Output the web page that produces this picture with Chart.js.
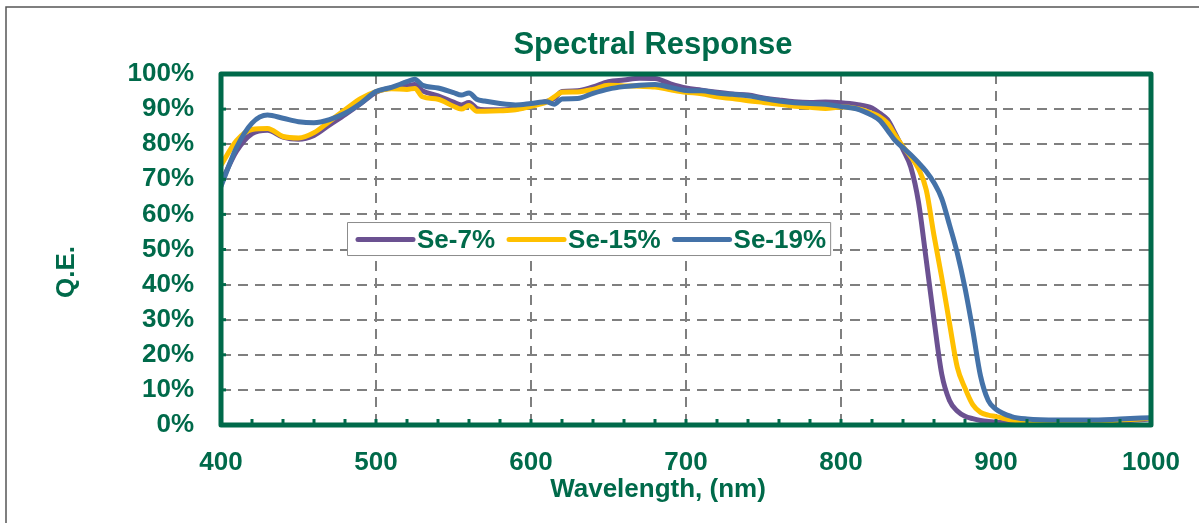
<!DOCTYPE html>
<html>
<head>
<meta charset="utf-8">
<script src="https://cdn.jsdelivr.net/npm/chart.js@4"></script>
<style>
  body { margin: 0; background: #fff; }
  #wrap { width: 1199px; height: 523px; position: relative; }
</style>
</head>
<body>
<div id="wrap"><canvas id="qeChart" width="1199" height="523"></canvas></div>
<script>
// Spectral response (Q.E.) for three Se doping levels.

const wavelengths = [400, 410, 420, 430, 440, 450, 460, 470, 480, 490, 500, 510, 520, 525, 530, 540, 550, 555, 560, 565, 570, 580, 590, 600, 610, 615, 620, 630, 640, 650, 660, 670, 680, 690, 700, 710, 720, 730, 740, 750, 760, 770, 780, 790, 800, 810, 820, 825, 830, 835, 840, 845, 850, 855, 860, 865, 870, 875, 880, 885, 890, 895, 900, 910, 920, 940, 960, 980, 1000];

const se7 = [69, 78, 83, 84, 82, 81.4, 82.5, 85.5, 88.4, 91.5, 94.8, 96, 96.6, 97, 95.2, 93.8, 92, 91.2, 91.9, 90.2, 89.8, 89.8, 90, 91, 92.2, 93, 95, 95.2, 96.3, 97.8, 98.3, 98.8, 98.7, 97.2, 96, 95.4, 94.8, 94.3, 94, 93.2, 92.6, 92.1, 91.9, 92, 91.8, 91.3, 90.3, 88.8, 87, 83, 78.5, 73.5, 63.5, 47, 30, 14.5, 7, 4, 2.5, 1.8, 1.3, 1, 0.8, 0.5, 0.4, 0.4, 0.6, 1.1, 1.7];

const se15 = [74, 81, 84.2, 84.5, 82.2, 81.8, 83.3, 86.5, 89.8, 93, 95, 95.8, 95.6, 95.9, 93.5, 92.8, 90.8, 90, 91, 89.4, 89.4, 89.5, 89.8, 90.8, 92, 93.5, 94.8, 94.9, 95.6, 96.8, 96.6, 96.5, 96.3, 95.5, 94.8, 94.4, 93.5, 93, 92.4, 91.9, 91.4, 90.8, 90.5, 90.2, 90.6, 90.2, 88.8, 87.8, 86, 82.5, 79.3, 76.5, 73, 67, 54, 42, 29, 16.5, 10.5, 5.8, 3.6, 2.8, 2.4, 1.4, 1, 0.7, 0.9, 1.4, 1.9];

const se19 = [68, 79, 86, 88.3, 87.4, 86.4, 86.1, 87, 88.8, 91.6, 95, 96.2, 97.8, 98.5, 96.8, 96, 94.7, 94, 94.6, 92.8, 92.3, 91.6, 91.2, 91.6, 92.1, 91.4, 92.9, 93, 94.5, 95.7, 96.4, 96.8, 97, 96.2, 95.3, 95.2, 94.6, 94.2, 93.8, 93, 92.3, 91.8, 91.6, 91.4, 90.7, 90.1, 88.2, 86.8, 84, 81, 79, 77, 74.7, 72.2, 69, 64.5, 57, 49, 39, 27, 14, 7, 4.5, 2.4, 1.7, 1.4, 1.4, 1.7, 2.1];

const seriesLabels = ["Se-7%", "Se-15%", "Se-19%"];
const seriesColors = ["#6b5191", "#ffc000", "#4472a8"];

const GREEN = "#006a4a";
const FONT = '"Liberation Sans", Arial, sans-serif';

function toPoints(values) {
  return wavelengths.map((w, i) => ({ x: w, y: values[i] }));
}

// Frame, inside ticks, titles and the boxed legend
const decorPlugin = {
  id: "decor",
  beforeDraw(chart) {
    const ctx = chart.ctx;
    ctx.save();
    ctx.strokeStyle = "#555";
    ctx.lineWidth = 1.5;
    ctx.strokeRect(6, 7, 1400, 800);
    ctx.restore();
  },
  afterDatasetsDraw(chart) {
    const ctx = chart.ctx;
    const a = chart.chartArea;
    const xs = chart.scales.x;
    const ys = chart.scales.y;
    ctx.save();

    // minor ticks along the bottom, every 20 nm
    ctx.strokeStyle = GREEN;
    ctx.lineWidth = 3;
    for (let w = 420; w < 1000; w += 20) {
      const px = xs.getPixelForValue(w);
      ctx.beginPath();
      ctx.moveTo(px, a.bottom);
      ctx.lineTo(px, a.bottom - 6);
      ctx.stroke();
    }
    // small ticks on the left, every 10%
    for (let v = 10; v < 100; v += 10) {
      const py = ys.getPixelForValue(v);
      ctx.beginPath();
      ctx.moveTo(a.left, py);
      ctx.lineTo(a.left + 5, py);
      ctx.stroke();
    }

    // plot frame
    ctx.lineWidth = 5;
    ctx.lineJoin = "round";
    ctx.strokeRect(a.left, a.top, a.right - a.left, a.bottom - a.top);

    // titles
    ctx.fillStyle = GREEN;
    ctx.textAlign = "center";
    ctx.textBaseline = "middle";
    ctx.font = "bold 31px " + FONT;
    ctx.fillText("Spectral Response", 653, 45);
    ctx.font = "bold 26px " + FONT;
    ctx.fillText("Wavelength, (nm)", 658, 490);
    ctx.save();
    ctx.translate(67, 272);
    ctx.rotate(-Math.PI / 2);
    ctx.fillText("Q.E.", 0, 0);
    ctx.restore();

    // legend box inside the plot
    const w = a.right - a.left;
    const h = a.bottom - a.top;
    const bx = a.left + w * 0.1355;
    const by = a.top + h * 0.4217;
    const bw = w * 0.5195;
    const bh = 33;
    ctx.fillStyle = "#fff";
    ctx.fillRect(bx, by, bw, bh);
    ctx.strokeStyle = "#8c8c8c";
    ctx.lineWidth = 1;
    ctx.strokeRect(bx + 0.5, by + 0.5, bw, bh);

    ctx.font = "bold 26px " + FONT;
    ctx.textAlign = "left";
    let cx = bx + 11;
    const cy = by + bh / 2 + 1;
    seriesLabels.forEach((lab, i) => {
      ctx.strokeStyle = seriesColors[i];
      ctx.lineWidth = 5;
      ctx.lineCap = "round";
      ctx.beginPath();
      ctx.moveTo(cx, cy);
      ctx.lineTo(cx + 55, cy);
      ctx.stroke();
      ctx.fillStyle = GREEN;
      ctx.fillText(lab, cx + 59, cy + 1);
      cx += 59 + ctx.measureText(lab).width + 14;
    });

    ctx.restore();
  },
};

const ctxQE = document.getElementById("qeChart").getContext("2d");

const qeChart = new Chart(ctxQE, {
  type: "line",
  data: {
    datasets: [
      {
        label: seriesLabels[0],
        data: toPoints(se7),
        borderColor: seriesColors[0],
        order: 3,
      },
      {
        label: seriesLabels[1],
        data: toPoints(se15),
        borderColor: seriesColors[1],
        order: 2,
      },
      {
        label: seriesLabels[2],
        data: toPoints(se19),
        borderColor: seriesColors[2],
        order: 1,
      },
    ],
  },
  options: {
    responsive: false,
    animation: false,
    layout: { padding: { left: 0, right: 48, top: 74, bottom: 0 } },
    elements: {
      line: { borderWidth: 5, cubicInterpolationMode: "monotone", borderCapStyle: "round", borderJoinStyle: "round" },
      point: { radius: 0 },
    },
    plugins: {
      legend: { display: false },
      title: { display: false },
      tooltip: { enabled: false },
    },
    scales: {
      x: {
        type: "linear",
        min: 400,
        max: 1000,
        afterFit: (scale) => {
          scale.height = 98;
          scale.paddingLeft = 0;
          scale.paddingRight = 0;
        },
        ticks: {
          stepSize: 20,
          autoSkip: false,
          maxRotation: 0,
          padding: 22,
          color: GREEN,
          font: { family: FONT, size: 26, weight: "bold" },
          callback: (v) => (v % 100 === 0 ? String(v) : ""),
        },
        grid: {
          drawTicks: false,
          lineWidth: 2,
          color: (c) => {
            const v = c.tick ? c.tick.value : null;
            return v !== null && v % 100 === 0 && v > 400 && v < 1000 ? "#7f7f7f" : "rgba(0,0,0,0)";
          },
        },
        border: { display: false, dash: [10, 7] },
      },
      y: {
        min: 0,
        max: 100,
        afterFit: (scale) => { scale.width = 221; },
        ticks: {
          stepSize: 10,
          padding: 27,
          color: GREEN,
          font: { family: FONT, size: 26, weight: "bold" },
          callback: (v) => v + "%",
        },
        grid: {
          drawTicks: false,
          lineWidth: 2,
          color: (c) => {
            const v = c.tick ? c.tick.value : null;
            return v !== null && v > 0 && v < 100 ? "#7f7f7f" : "rgba(0,0,0,0)";
          },
        },
        border: { display: false, dash: [10, 7] },
      },
    },
  },
  plugins: [decorPlugin],
});
</script>
</body>
</html>
